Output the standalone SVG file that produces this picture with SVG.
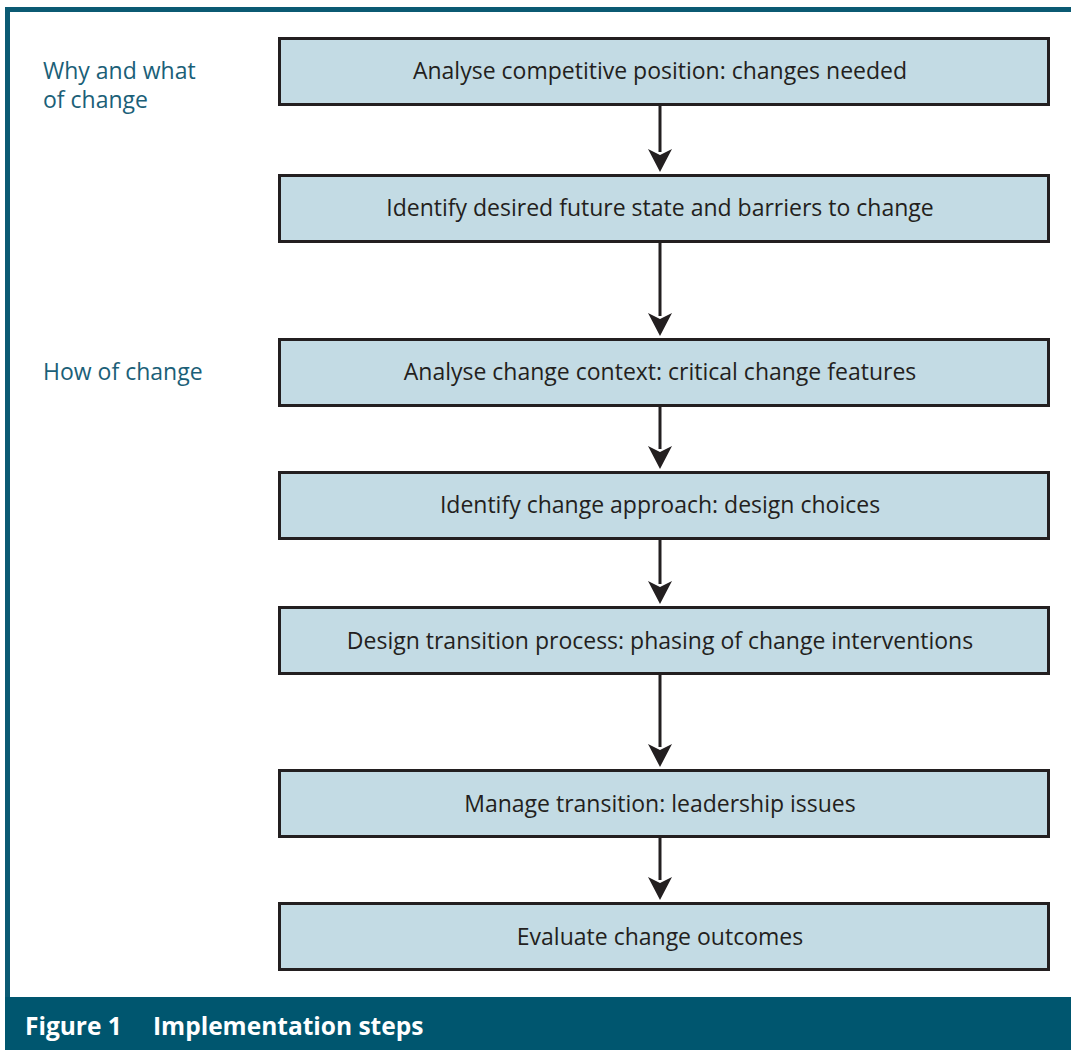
<svg xmlns="http://www.w3.org/2000/svg" width="1071" height="1050" viewBox="0 0 1071 1050">
<style>
.box{fill:#c3dbe4;stroke:#231f20;stroke-width:3}
.bt{font-family:"Open Sans","Liberation Sans",sans-serif;font-size:23px;fill:#231f20;text-anchor:middle}
.lb{font-family:"Open Sans","Liberation Sans",sans-serif;font-size:23px;fill:#1b5f78}
.cap{font-family:"Open Sans","Liberation Sans",sans-serif;font-size:24.5px;font-weight:bold;fill:#ffffff}
.conn{stroke:#231f20;stroke-width:3;fill:none}
.ah{fill:#231f20}
</style>
<rect x="0" y="0" width="1071" height="1050" fill="#ffffff"/>
<path d="M7.5 1050 V9.5 H1071" fill="none" stroke="#0b5a73" stroke-width="5"/>
<rect x="5" y="997" width="1066" height="53" fill="#00566f"/>
<text class="cap" x="25" y="1035">Figure 1<tspan x="153">Implementation steps</tspan></text>
<g id="labels">
<text class="lb" x="43" y="79">Why and what</text>
<text class="lb" x="43" y="108">of change</text>
<text class="lb" x="43" y="380">How of change</text>
</g>
<g id="connectors">
<path class="conn" d="M660 104 V152"/>
<path class="ah" d="M648 149 L660 155 L672 149 L660 172 Z"/>
<path class="conn" d="M660 241 V316"/>
<path class="ah" d="M648 313 L660 319 L672 313 L660 336 Z"/>
<path class="conn" d="M660 405 V449"/>
<path class="ah" d="M648 446 L660 452 L672 446 L660 469 Z"/>
<path class="conn" d="M660 538 V584"/>
<path class="ah" d="M648 581 L660 587 L672 581 L660 604 Z"/>
<path class="conn" d="M660 673 V747"/>
<path class="ah" d="M648 744 L660 750 L672 744 L660 767 Z"/>
<path class="conn" d="M660 836 V880"/>
<path class="ah" d="M648 877 L660 883 L672 877 L660 900 Z"/>
</g>
<g id="n1"><rect class="box" x="279.5" y="38.5" width="769" height="66"/><text class="bt" x="660" y="79">Analyse competitive position: changes needed</text></g>
<g id="n2"><rect class="box" x="279.5" y="175.5" width="769" height="66"/><text class="bt" x="660" y="216">Identify desired future state and barriers to change</text></g>
<g id="n3"><rect class="box" x="279.5" y="339.5" width="769" height="66"/><text class="bt" x="660" y="380">Analyse change context: critical change features</text></g>
<g id="n4"><rect class="box" x="279.5" y="472.5" width="769" height="66"/><text class="bt" x="660" y="513">Identify change approach: design choices</text></g>
<g id="n5"><rect class="box" x="279.5" y="607.5" width="769" height="66"/><text class="bt" x="660" y="649">Design transition process: phasing of change interventions</text></g>
<g id="n6"><rect class="box" x="279.5" y="770.5" width="769" height="66"/><text class="bt" x="660" y="812">Manage transition: leadership issues</text></g>
<g id="n7"><rect class="box" x="279.5" y="903.5" width="769" height="66"/><text class="bt" x="660" y="945">Evaluate change outcomes</text></g>
</svg>
